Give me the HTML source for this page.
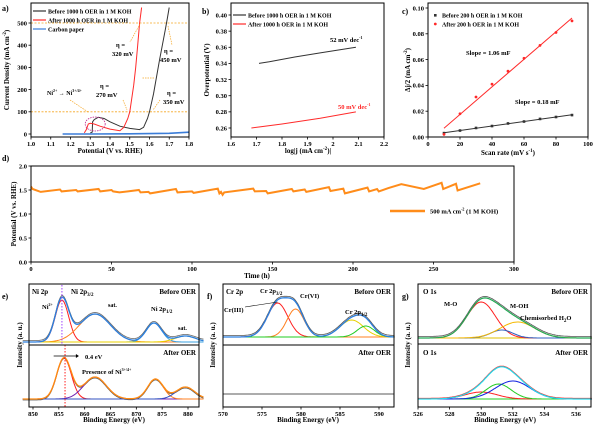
<!DOCTYPE html>
<html><head><meta charset="utf-8"><style>
body{margin:0;background:#fff;}
svg{display:block;font-family:"Liberation Serif",serif;font-weight:bold;}
</style></head><body>
<svg id="fig" width="600" height="431" viewBox="0 0 600 431" xmlns="http://www.w3.org/2000/svg"></svg>
<script>
// ---- Panel a data
const aBlackV=[1.30,1.31,1.312,1.32,1.34,1.37,1.40,1.45,1.50,1.55,1.57,1.59,1.60,1.62,1.65,1.68,1.69,1.70];
const aBlackJ=[5,8,55,65,75,70,55,35,25,20,30,70,100,180,330,470,520,570];
const aRedV=[1.27,1.28,1.29,1.30,1.32,1.35,1.40,1.45,1.47,1.49,1.50,1.52,1.53,1.54,1.55,1.56];
const aRedJ=[5,20,45,48,45,35,22,15,30,70,100,220,300,400,500,570];
const aCarbV=[1.16,1.3,1.5,1.7,1.8];
const aCarbJ=[0,0,1,3,8];
const aXTicks=[1.0,1.1,1.2,1.3,1.4,1.5,1.6,1.7,1.8];
const aYTicks=[0,100,200,300,400,500];
// ---- Panel b data
const bBlackX=[1.71,1.75,1.85,1.95,2.09];
const bBlackY=[0.340,0.342,0.348,0.353,0.360];
const bRedX=[1.68,1.80,1.95,2.09];
const bRedY=[0.260,0.265,0.272,0.280];
const bXTicks=[1.6,1.7,1.8,1.9,2.0,2.1,2.2];
const bXLabels=["1.6","1.7","1.8","1.9","2","2.1","2.2"];
const bYTicks=[0.26,0.28,0.30,0.32,0.34,0.36,0.38,0.40];
// ---- Panel c data
const cScan=[10,20,30,40,50,60,70,80,90];
const cBefore=[0.003,0.005,0.007,0.0085,0.0105,0.012,0.014,0.0155,0.017];
const cAfter=[0.002,0.018,0.031,0.041,0.051,0.061,0.071,0.081,0.090];
const cXTicks=[0,20,40,60,80,100];
const cYTicks=[0,0.02,0.04,0.06,0.08,0.10];
// ---- Panel d data
const dTime=[0,1,6,18,19,28,29,42,43,50,51,55,67,68,73,74,90,91,100,101,116,117,118,119,120,138,139,146,147,162,163,170,171,185,186,194,195,209,210,215,216,222,230,244,255,256,264,265,279];
const dPot=[1.57,1.52,1.46,1.51,1.47,1.50,1.47,1.52,1.47,1.50,1.47,1.45,1.50,1.45,1.46,1.43,1.52,1.45,1.47,1.44,1.53,1.43,1.46,1.40,1.45,1.53,1.47,1.48,1.43,1.52,1.47,1.51,1.46,1.56,1.48,1.53,1.43,1.55,1.47,1.52,1.47,1.54,1.62,1.52,1.65,1.52,1.63,1.49,1.64];
const dXTicks=[0,50,100,150,200,250,300];
const dYTicks=[0,0.5,1.0,1.5,2.0];
// ---- XPS peaks [center, height(px), sigma]
const eTopPeaks=[[855.6,42,1.3],[862,28,3.0],[873.4,19,1.5],[879.5,6,2.0]];
const eBotPeaks=[[856,41,1.4],[862,22,2.2],[873.7,20,1.5],[879.5,12,1.8]];
const eXTicks=[850,855,860,865,870,875,880];
const fTopPeaks=[[577,34,1.3],[579.3,28,1.1],[586.5,17,1.5],[588.3,11,1.1]];
const fXTicks=[570,575,580,585,590];
const gTopPeaks=[[530,36,0.9],[531.3,8,0.7],[532.3,16,1.1]];
const gBotPeaks=[[530,7,1.0],[531.1,15,0.8],[532,18,1.1]];
const gXTicks=[526,528,530,532,534,536];

const NS="http://www.w3.org/2000/svg";
const svg=document.getElementById('fig');
function mk(tag,attrs,parent){const e=document.createElementNS(NS,tag);for(const k in attrs)e.setAttribute(k,attrs[k]);(parent||svg).appendChild(e);return e;}
function txt(x,y,s,size,anchor,parent,fill,rot){const t=mk('text',{x:x,y:y,'font-size':size,'text-anchor':anchor||'start',fill:fill||'#000'},parent);if(rot)t.setAttribute('transform','rotate(-90 '+x+' '+y+')');t.innerHTML=s;return t;}
function lin(d0,d1,r0,r1){return v=>r0+(v-d0)*(r1-r0)/(d1-d0);}
function poly(xs,ys,sx,sy,color,w,parent,dash){const pts=xs.map((x,i)=>sx(x).toFixed(1)+','+sy(ys[i]).toFixed(1)).join(' ');const p=mk('polyline',{points:pts,fill:'none',stroke:color,'stroke-width':w||1},parent);if(dash)p.setAttribute('stroke-dasharray',dash);return p;}
function box(x0,y0,x1,y1,parent){return mk('rect',{x:x0,y:y0,width:x1-x0,height:y1-y0,fill:'none',stroke:'#000','stroke-width':1},parent);}
function xticks(ticks,labels,sx,yb,parent,fs){ticks.forEach((t,i)=>{mk('line',{x1:sx(t),x2:sx(t),y1:yb,y2:yb+2.5,stroke:'#000','stroke-width':0.8},parent);txt(sx(t),yb+9,labels?labels[i]:String(t),fs||6.5,'middle',parent);});}
function yticks(ticks,labels,sy,xl,parent){ticks.forEach((t,i)=>{mk('line',{x1:xl-2.5,x2:xl,y1:sy(t),y2:sy(t),stroke:'#000','stroke-width':0.8},parent);txt(xl-4,sy(t)+2.3,labels?labels[i]:String(t),6.5,'end',parent);});}

// ===== Panel a
const ga=mk('g',{});
const axa=lin(1.0,1.8,31,189), aya=lin(0,500,134,23);
mk('line',{x1:31,x2:189,y1:aya(500),y2:aya(500),stroke:'#f5a623','stroke-width':0.8,'stroke-dasharray':'2,1.5'},ga);
mk('line',{x1:31,x2:189,y1:aya(100),y2:aya(100),stroke:'#f5a623','stroke-width':0.8,'stroke-dasharray':'2,1.5'},ga);
poly(aCarbV,aCarbJ,axa,aya,'#3b7dd8',1.6,ga);
poly(aBlackV,aBlackJ,axa,aya,'#333',1,ga);
poly(aRedV,aRedJ,axa,aya,'#ff2a2a',1,ga);
mk('ellipse',{cx:axa(1.325),cy:aya(45),rx:10,ry:7,fill:'none',stroke:'#c0258a','stroke-width':0.8,'stroke-dasharray':'1.5,1'},ga);
box(31,3,189,137,ga);
xticks(aXTicks,aXTicks.map(v=>v.toFixed(1)),axa,137,ga);
yticks(aYTicks,null,aya,31,ga);
txt(110,153,'Potential (V vs. RHE)',7,'middle',ga);
txt(9,70,'Current Density (mA cm<tspan font-size="5" dy="-3">-2</tspan><tspan dy="3">)</tspan>',7,'middle',ga,'#000',true);
txt(2,11,'a)',8,'start',ga);
[['#333','Before 1000 h OER in 1 M KOH',11],['#ff2a2a','After 1000 h OER in 1 M KOH',20],['#3b7dd8','Carbon paper',29]].forEach(l=>{mk('line',{x1:33,x2:46,y1:l[2],y2:l[2],stroke:l[0],'stroke-width':1.2},ga);txt(48,l[2]+2.3,l[1],6,'start',ga);});
const ann=[[116,47,'η =','320 mV'],[164,53,'η =','450 mV'],[100,88,'η =','270 mV'],[167,95,'η =','350 mV']];
ann.forEach(a=>{txt(a[0],a[1],a[2],6.5,'start',ga);txt(a[0]-4,a[1]+9,a[3],6.5,'start',ga);});
txt(47,95,'Ni<tspan font-size="4" dy="-3">2+</tspan><tspan dy="3"> → Ni</tspan><tspan font-size="4" dy="-3">3+/4+</tspan>',6,'start',ga);
[[140,24,130,42],[168,26,172,45],[154,78,142,78],[123,100,127,110],[160,100,153,110],[70,100,88,112]].forEach(s=>mk('line',{x1:s[0],y1:s[1],x2:s[2],y2:s[3],stroke:'#f5a623','stroke-width':0.7,'stroke-dasharray':'1.5,1'},ga));

// ===== Panel b
const gb=mk('g',{});
const bxs=lin(1.6,2.2,231,384), bys=lin(0.26,0.40,128,15);
poly(bBlackX,bBlackY,bxs,bys,'#333',1,gb);
poly(bRedX,bRedY,bxs,bys,'#ff2a2a',1,gb);
box(231,3,384,137,gb);
xticks(bXTicks,bXLabels,bxs,137,gb);
yticks(bYTicks,bYTicks.map(v=>v.toFixed(2)),bys,231,gb);
txt(308,153,'log|j (mA cm<tspan font-size="5" dy="-3">-2</tspan><tspan dy="3">)|</tspan>',7,'middle',gb);
txt(209,70,'Overpotential (V)',7,'middle',gb,'#000',true);
txt(202,14,'b)',8,'start',gb);
[['#333','Before 1000 h OER in 1 M KOH',15],['#ff2a2a','After 1000 h OER in 1 M KOH',24]].forEach(l=>{mk('line',{x1:233,x2:246,y1:l[2],y2:l[2],stroke:l[0],'stroke-width':1.2},gb);txt(248,l[2]+2.3,l[1],6,'start',gb);});
txt(330,42,'52 mV dec<tspan font-size="4" dy="-3">-1</tspan>',6.5,'start',gb);
txt(338,109,'50 mV dec<tspan font-size="4" dy="-3">-1</tspan>',6.5,'start',gb,'#ff2a2a');

// ===== Panel c
const gc=mk('g',{});
const cxs=lin(0,100,428,588), cys=lin(0,0.10,137,8);
function fit(xs,ys){const n=xs.length,mx=xs.reduce((a,b)=>a+b)/n,my=ys.reduce((a,b)=>a+b)/n;let sxy=0,sxx=0;xs.forEach((x,i)=>{sxy+=(x-mx)*(ys[i]-my);sxx+=(x-mx)*(x-mx);});const m=sxy/sxx;return [m,my-m*mx];}
[[cBefore,'#333','before'],[cAfter,'#ff2a2a','after']].forEach(s=>{const f=fit(cScan,s[0]);const l=mk('line',{x1:cxs(10),x2:cxs(90),y1:cys(f[1]+f[0]*10),y2:cys(f[1]+f[0]*90),stroke:s[1],'stroke-width':1},gc);
cScan.forEach((x,i)=>{let m;if(s[2]==='before'){m=mk('rect',{x:cxs(x)-1.3,y:cys(s[0][i])-1.3,width:2.6,height:2.6,fill:s[1]},gc);}else{m=mk('circle',{cx:cxs(x),cy:cys(s[0][i]),r:1.4,fill:s[1]},gc);}});});
box(428,3,588,137,gc);
xticks(cXTicks,null,cxs,137,gc);
yticks(cYTicks,cYTicks.map(v=>v.toFixed(2)),cys,428,gc);
txt(508,155,'Scan rate (mV s<tspan font-size="5" dy="-3">-1</tspan><tspan dy="3">)</tspan>',7,'middle',gc);
txt(410,70,'Δj/2 (mA cm<tspan font-size="5" dy="-3">-2</tspan><tspan dy="3">)</tspan>',7,'middle',gc,'#000',true);
txt(402,14,'c)',8,'start',gc);
mk('rect',{x:434,y:14,width:2.6,height:2.6,fill:'#333'},gc);txt(442,17.3,'Before 200 h OER in 1 M KOH',6,'start',gc);
mk('circle',{cx:435.3,cy:24,r:1.4,fill:'#ff2a2a'},gc);txt(442,26.3,'After 200 h OER in 1 M KOH',6,'start',gc);
txt(466,55,'Slope = 1.06 mF',6.5,'start',gc);
txt(515,104,'Slope = 0.18 mF',6.5,'start',gc);

// ===== Panel d
const gd=mk('g',{});
const dxs=lin(0,300,31,514), dys=lin(0,2.0,262,166);
poly(dTime,dPot,dxs,dys,'#ff8c1a',2,gd);
box(31,166,514,262,gd);
xticks(dXTicks,null,dxs,262,gd);
yticks(dYTicks,dYTicks.map(v=>v.toFixed(1)),dys,31,gd);
txt(257,278,'Time (h)',7,'middle',gd);
txt(16,214,'Potential (V vs. RHE)',7,'middle',gd,'#000',true);
txt(2,161,'d)',8,'start',gd);
mk('line',{x1:390,x2:425,y1:211,y2:211,stroke:'#ff8c1a','stroke-width':2.5},gd);
txt(430,213.5,'500 mA cm<tspan font-size="4" dy="-3">-2</tspan><tspan dy="3"> (1 M KOH)</tspan>',6.5,'start',gd);

// ===== XPS helpers
function gauss(p,x){return p[1]*Math.exp(-0.5*Math.pow((x-p[0])/p[2],2));}
function range(a,b,n){const r=[];for(let i=0;i<=n;i++)r.push(a+(b-a)*i/n);return r;}
function drawPeak(p,xs,sx,base,color,g,name){const ys=xs.map(x=>gauss(p,x));const l=poly(xs,ys,sx,v=>base-v,color,1,g);}
function drawEnv(ps,xs,sx,base,color,g,name,w,off){const ys=xs.map(x=>ps.reduce((s,p)=>s+gauss(p,x),0));const l=poly(xs,ys,sx,v=>base-v+(off||0),color,w||1.2,g);}

// ===== Panel e
const ge=mk('g',{});
const exs=lin(850,880,33,188); const eX=range(848,883,140);
mk('line',{x1:29,x2:199,y1:342,y2:342,stroke:'#22cc22','stroke-width':1},ge);
drawEnv(eTopPeaks,eX,exs,342,'#666',ge,'e-top-raw',0.8,-1.5);
drawPeak(eTopPeaks[0],eX,exs,342,'#ff2020',ge,'e-ni2-peak');
drawPeak(eTopPeaks[1],eX,exs,342,'#ff8020',ge,'e-sat-peak');
drawPeak(eTopPeaks[2],eX,exs,342,'#3aa0e0',ge,'e-ni2p12-peak');
drawPeak(eTopPeaks[3],eX,exs,342,'#e8d000',ge,'e-sat2-peak');
drawEnv(eTopPeaks,eX,exs,342,'#2a7fe0',ge,'e-top-envelope',1.3);
mk('line',{x1:29,x2:199,y1:399,y2:399,stroke:'#6a1ba0','stroke-width':1},ge);
drawEnv(eBotPeaks,eX,exs,399,'#555',ge,'e-bot-raw',0.8,1);
drawPeak(eBotPeaks[0],eX,exs,399,'#ff2020',ge,'e-bot-peak1');
drawPeak(eBotPeaks[1],eX,exs,399,'#7020b0',ge,'e-bot-peak2');
drawPeak(eBotPeaks[2],eX,exs,399,'#ff8020',ge,'e-bot-peak3');
drawPeak(eBotPeaks[3],eX,exs,399,'#3050c0',ge,'e-bot-peak4');
drawEnv(eBotPeaks,eX,exs,399,'#ff8a10',ge,'e-bot-envelope',1.3);
mk('line',{x1:exs(855.6),x2:exs(855.6),y1:285,y2:345,stroke:'#a040ff','stroke-width':1,'stroke-dasharray':'1.5,1.5'},ge);
mk('line',{x1:exs(856.2),x2:exs(856.2),y1:345,y2:407,stroke:'#ff2020','stroke-width':1,'stroke-dasharray':'1.5,1.5'},ge);
mk('line',{x1:exs(854),x2:exs(858.5),y1:356,y2:356,stroke:'#000','stroke-width':0.8},ge);
mk('polygon',{points:(exs(858.5)+2)+',356 '+(exs(858.5)-1)+',354 '+(exs(858.5)-1)+',358',fill:'#000'},ge);
box(29,284,199,407,ge);mk('line',{x1:29,x2:199,y1:345,y2:345,stroke:'#000','stroke-width':1},ge);
xticks(eXTicks,null,exs,407,ge);
txt(114,422,'Binding Energy (eV)',7,'middle',ge);
txt(22,345,'Intensity (a. u.)',7,'middle',ge,'#000',true);
txt(2,299,'e)',8,'start',ge);
txt(32,294,'Ni 2p',7,'start',ge);txt(71,294,'Ni 2p<tspan font-size="5" dy="2">3/2</tspan>',7,'start',ge);
txt(196,294,'Before OER',7,'end',ge);txt(42,309,'Ni<tspan font-size="4" dy="-3">2+</tspan>',6.5,'start',ge);
txt(108,307,'sat.',6,'start',ge);txt(151,311,'Ni 2p<tspan font-size="5" dy="2">1/2</tspan>',6.5,'start',ge);txt(178,330,'sat.',6,'start',ge);
txt(196,355,'After OER',7,'end',ge);txt(85,359,'0.4 eV',6.5,'start',ge);
txt(82,374,'Presence of Ni<tspan font-size="4" dy="-3">3+/4+</tspan>',6.5,'start',ge);

// ===== Panel f
const gf=mk('g',{});
const fxs=lin(570,590,223,379); const fX=range(570,592,140);
mk('line',{x1:223,x2:394,y1:337,y2:337,stroke:'#22cc22','stroke-width':1},gf);
drawEnv(fTopPeaks,fX,fxs,337,'#555',gf,'f-top-raw',0.8,-1.5);
drawPeak(fTopPeaks[0],fX,fxs,337,'#ff2020',gf,'f-cr3-peak');
drawPeak(fTopPeaks[1],fX,fxs,337,'#ff8020',gf,'f-cr6-peak');
drawPeak(fTopPeaks[2],fX,fxs,337,'#e8d000',gf,'f-cr12a-peak');
drawPeak(fTopPeaks[3],fX,fxs,337,'#22cc22',gf,'f-cr12b-peak');
drawEnv(fTopPeaks,fX,fxs,337,'#2a7fe0',gf,'f-top-envelope',1.3);
mk('line',{x1:223,x2:394,y1:394,y2:394,stroke:'#222','stroke-width':0.8},gf);
box(223,284,394,407,gf);mk('line',{x1:223,x2:394,y1:345,y2:345,stroke:'#000','stroke-width':1},gf);
xticks(fXTicks,null,fxs,407,gf);
txt(308,422,'Binding Energy (eV)',7,'middle',gf);
txt(215,345,'Intensity (a. u.)',7,'middle',gf,'#000',true);
txt(207,299,'f)',8,'start',gf);
txt(226,294,'Cr 2p',7,'start',gf);txt(260,293,'Cr 2p<tspan font-size="5" dy="2">3/2</tspan>',6.5,'start',gf);
txt(300,298,'Cr(VI)',6.5,'start',gf);txt(391,294,'Before OER',7,'end',gf);
txt(224,312,'Cr(III)',6.5,'start',gf);mk('line',{x1:245,y1:307,x2:fxs(577),y2:302,stroke:'#000','stroke-width':0.6},gf);
txt(345,314,'Cr 2p<tspan font-size="5" dy="2">1/2</tspan>',6.5,'start',gf);
txt(391,355,'After OER',7,'end',gf);

// ===== Panel g
const gg=mk('g',{});
const gxs=lin(526,536,418,576); const gX=range(526,537,140);
mk('line',{x1:418,x2:591,y1:338,y2:338,stroke:'#e0c000','stroke-width':1},gg);
drawEnv(gTopPeaks,gX,gxs,338,'#555',gg,'g-top-raw',0.8,-1.5);
drawPeak(gTopPeaks[0],gX,gxs,338,'#ff2020',gg,'g-mo-peak');
drawPeak(gTopPeaks[1],gX,gxs,338,'#3060c0',gg,'g-moh-peak');
drawPeak(gTopPeaks[2],gX,gxs,338,'#f5b800',gg,'g-h2o-peak');
drawEnv(gTopPeaks,gX,gxs,338,'#22aa55',gg,'g-top-envelope',1.2);
mk('line',{x1:418,x2:591,y1:399,y2:399,stroke:'#22cc22','stroke-width':1},gg);
drawPeak(gBotPeaks[0],gX,gxs,399,'#ff2020',gg,'g-bot-peak1');
drawPeak(gBotPeaks[1],gX,gxs,399,'#22cc22',gg,'g-bot-peak2');
drawPeak(gBotPeaks[2],gX,gxs,399,'#1020e0',gg,'g-bot-peak3');
drawEnv(gBotPeaks,gX,gxs,399,'#ff2020',gg,'g-bot-raw',1.2,-0.5);
drawEnv(gBotPeaks,gX,gxs,399,'#22ddee',gg,'g-bot-envelope',1.2);
box(418,284,591,407,gg);mk('line',{x1:418,x2:591,y1:344,y2:344,stroke:'#000','stroke-width':1},gg);
xticks(gXTicks,null,gxs,407,gg);
txt(505,422,'Binding Energy (eV)',7,'middle',gg);
txt(410,345,'Intensity (a. u.)',7,'middle',gg,'#000',true);
txt(402,299,'g)',8,'start',gg);
txt(423,294,'O 1s',7,'start',gg);txt(588,294,'Before OER',7,'end',gg);
txt(444,306,'M-O',6.5,'start',gg);txt(510,308,'M-OH',6.5,'start',gg);
txt(520,320,'Chemisorbed H<tspan font-size="5" dy="2">2</tspan><tspan dy="-2">O</tspan>',6.5,'start',gg);
txt(423,355,'O 1s',7,'start',gg);txt(588,355,'After OER',7,'end',gg);
</script>
</body></html>
